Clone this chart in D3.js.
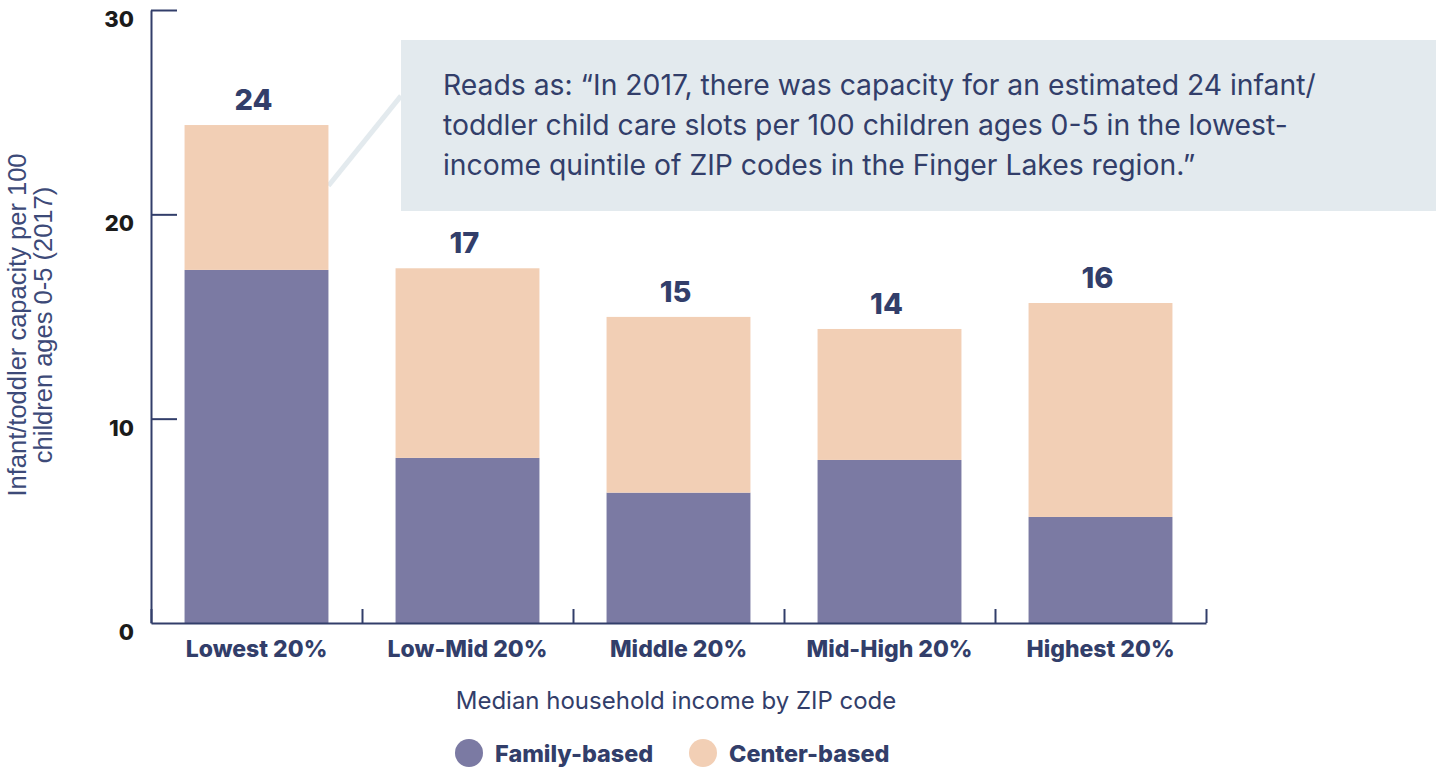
<!DOCTYPE html>
<html>
<head>
<meta charset="utf-8">
<script src="https://cdn.jsdelivr.net/npm/d3@7"></script>
<style>
  body { margin: 0; background: #fff; }
  svg text { font-family: Inter, "Noto Sans", sans-serif; }
</style>
</head>
<body>
<div id="chart"></div>
<script>
// data
var categories = ["Lowest 20%", "Low-Mid 20%", "Middle 20%", "Mid-High 20%", "Highest 20%"];
var familyBased = [17.28, 8.08, 6.38, 7.98, 5.19];
var centerBased = [7.09, 9.28, 8.60, 6.41, 10.47];
var totalLabels = ["24", "17", "15", "14", "16"];
var yTicks = [0, 10, 20, 30];
var seriesNames = ["Family-based", "Center-based"];
var noteLines = [
  "Reads as: \u201CIn 2017, there was capacity for an estimated 24 infant/",
  "toddler child care slots per 100 children ages 0-5 in the lowest-",
  "income quintile of ZIP codes in the Finger Lakes region.\u201D"
];

var width = 1440, height = 769;
var navy = "#323e6a", famColor = "#7b7aa3", ctrColor = "#f2cfb5", noteBg = "#e3eaee";

var svg = d3.select("#chart").append("svg").attr("width", width).attr("height", height);

var x = d3.scaleBand().domain(categories).range([151, 1206]).paddingInner(0.318).paddingOuter(0.159);
var xEdge = d3.scaleLinear().domain([0, categories.length]).range([151, 1206]);
var y = d3.scaleLinear().domain([0, 30]).range([623, 10]);

var rows = categories.map(function(c, i) {
  return { cat: c, family: familyBased[i], center: centerBased[i], label: totalLabels[i] };
});
var stack = d3.stack().keys(["family", "center"])(rows);
var color = d3.scaleOrdinal().domain(["family", "center"]).range([famColor, ctrColor]);

// annotation connector + box (drawn first so bars sit over it)
svg.append("line")
    .attr("x1", x(categories[0]) + x.bandwidth()).attr("y1", y(21.4))
    .attr("x2", 401).attr("y2", y(25.8))
    .attr("stroke", noteBg).attr("stroke-width", 5);

svg.append("rect").attr("x", 401).attr("y", 40).attr("width", 1035).attr("height", 171).attr("fill", noteBg);

svg.append("g").selectAll("text")
  .data(noteLines)
  .enter().append("text")
    .attr("x", 443)
    .attr("y", function(d, i) { return 95 + i * 40; })
    .attr("fill", navy)
    .style("font-size", "28.3px")
    .text(function(d) { return d; });

// bars
svg.append("g").selectAll("g")
  .data(stack)
  .enter().append("g")
    .attr("fill", function(d) { return color(d.key); })
  .selectAll("rect")
  .data(function(d) { return d; })
  .enter().append("rect")
    .attr("x", function(d) { return x(d.data.cat); })
    .attr("width", x.bandwidth())
    .attr("y", function(d) { return y(d[1]); })
    .attr("height", function(d) { return y(d[0]) - y(d[1]); });

// total labels
svg.append("g").selectAll("text")
  .data(rows)
  .enter().append("text")
    .attr("x", function(d) { return x(d.cat) + x.bandwidth() / 2 - 3; })
    .attr("y", function(d) { return y(d.family + d.center) - 15; })
    .attr("text-anchor", "middle")
    .attr("fill", navy)
    .style("font-size", "29px").style("font-weight", 800)
    .text(function(d) { return d.label; });

// y axis
var yAxis = svg.append("g")
    .attr("transform", "translate(151,0)")
    .call(d3.axisLeft(y).tickValues(yTicks).tickSizeInner(-26).tickSizeOuter(0).tickPadding(17));
yAxis.selectAll("text")
    .attr("dy", "0.75em")
    .attr("fill", "#1b1b1b")
    .style("font-size", "22px").style("font-weight", 800);
yAxis.selectAll("line").filter(function(d) { return d === 0; }).remove();

// x axis boundary ticks
svg.append("g")
    .attr("transform", "translate(0,623)")
    .call(d3.axisBottom(xEdge).tickValues(d3.range(categories.length + 1)).tickSize(-14).tickSizeOuter(0).tickFormat(""));

// x labels
var xLabels = svg.append("g")
    .attr("transform", "translate(0,623)")
    .call(d3.axisBottom(x).tickSize(0).tickPadding(18));
xLabels.select(".domain").remove();
xLabels.selectAll("text")
    .attr("fill", navy)
    .style("font-size", "23px").style("font-weight", 800);

svg.selectAll(".domain, .tick line").attr("stroke", navy).attr("stroke-width", 2);

// axis titles
svg.append("text")
    .attr("x", 676).attr("y", 709)
    .attr("text-anchor", "middle")
    .attr("fill", navy)
    .style("font-size", "24px")
    .text("Median household income by ZIP code");

var yTitle = svg.append("text")
    .attr("transform", "translate(26,325) rotate(-90)")
    .attr("text-anchor", "middle")
    .attr("fill", "#3d4a78")
    .style("font-family", "'Liberation Sans', Arial, sans-serif")
    .style("font-size", "25.5px");
yTitle.append("tspan").attr("x", 0).attr("y", 0).text("Infant/toddler capacity per 100");
yTitle.append("tspan").attr("x", 0).attr("y", 26).text("children ages 0-5 (2017)");

// legend
var legendX = [469, 703];
var legend = svg.append("g").selectAll("g")
  .data(seriesNames)
  .enter().append("g")
    .attr("transform", function(d, i) { return "translate(" + legendX[i] + ",753)"; });
legend.append("circle").attr("r", 14).attr("fill", function(d, i) { return i === 0 ? famColor : ctrColor; });
legend.append("text")
    .attr("x", 26).attr("y", 9)
    .attr("fill", navy)
    .style("font-size", "23.4px").style("font-weight", 800)
    .text(function(d) { return d; });
</script>
</body>
</html>
